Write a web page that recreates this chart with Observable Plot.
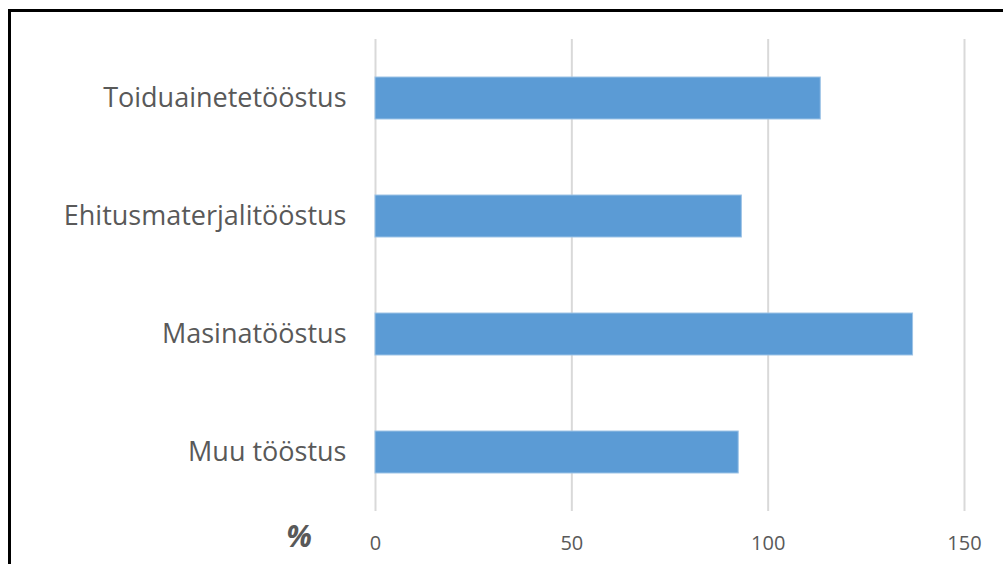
<!DOCTYPE html>
<html>
<head>
<meta charset="utf-8">
<script src="https://cdn.jsdelivr.net/npm/d3@7"></script>
<script src="https://cdn.jsdelivr.net/npm/@observablehq/plot@0.6"></script>
<style>
  html, body { margin: 0; padding: 0; background: #fff; overflow: hidden; }
  #frame { position: absolute; left: 8px; top: 9px; width: 1100px; height: 700px; border: 3px solid #000; box-sizing: border-box; }
  #chart { position: absolute; left: 0; top: 0; }
</style>
</head>
<body>
<div id="frame"></div>
<div id="chart"></div>
<script>
const categories = ["Toiduainetetööstus", "Ehitusmaterjalitööstus", "Masinatööstus", "Muu tööstus"];
const values = [113.4, 93.3, 136.9, 92.5];
const xTicks = [0, 50, 100, 150];
const unitLabel = "%";

const data = categories.map((c, i) => ({category: c, value: values[i]}));

const chart = Plot.plot({
  width: 1003,
  height: 564,
  marginLeft: 375,
  marginRight: 39,
  marginTop: 39,
  marginBottom: 53,
  style: {background: "transparent", fontFamily: "'Open Sans', sans-serif", color: "#595959"},
  x: {domain: [0, 150], ticks: xTicks},
  y: {domain: categories, paddingInner: 0.645, paddingOuter: 0.3225},
  marks: [
    Plot.ruleX(xTicks, {stroke: "#d9d9d9", strokeWidth: 2}),
    Plot.barX(data, {x: "value", y: "category", fill: "#5b9bd5", stroke: "#9dc3e6", strokeWidth: 1}),
    Plot.axisX({ticks: xTicks, tickSize: 0, tickPadding: 24, fontSize: 20, fill: "#595959", label: null}),
    Plot.axisY({tickSize: 0, tickPadding: 29, fontSize: 27, fill: "#595959", label: null}),
    Plot.text([unitLabel], {frameAnchor: "bottom-left", textAnchor: "middle", lineAnchor: "middle", dx: -76.5, dy: 26, fontSize: 30, fontStyle: "italic", fontWeight: "bold", fill: "#595959"})
  ]
});
document.getElementById("chart").appendChild(chart);
</script>
</body>
</html>
